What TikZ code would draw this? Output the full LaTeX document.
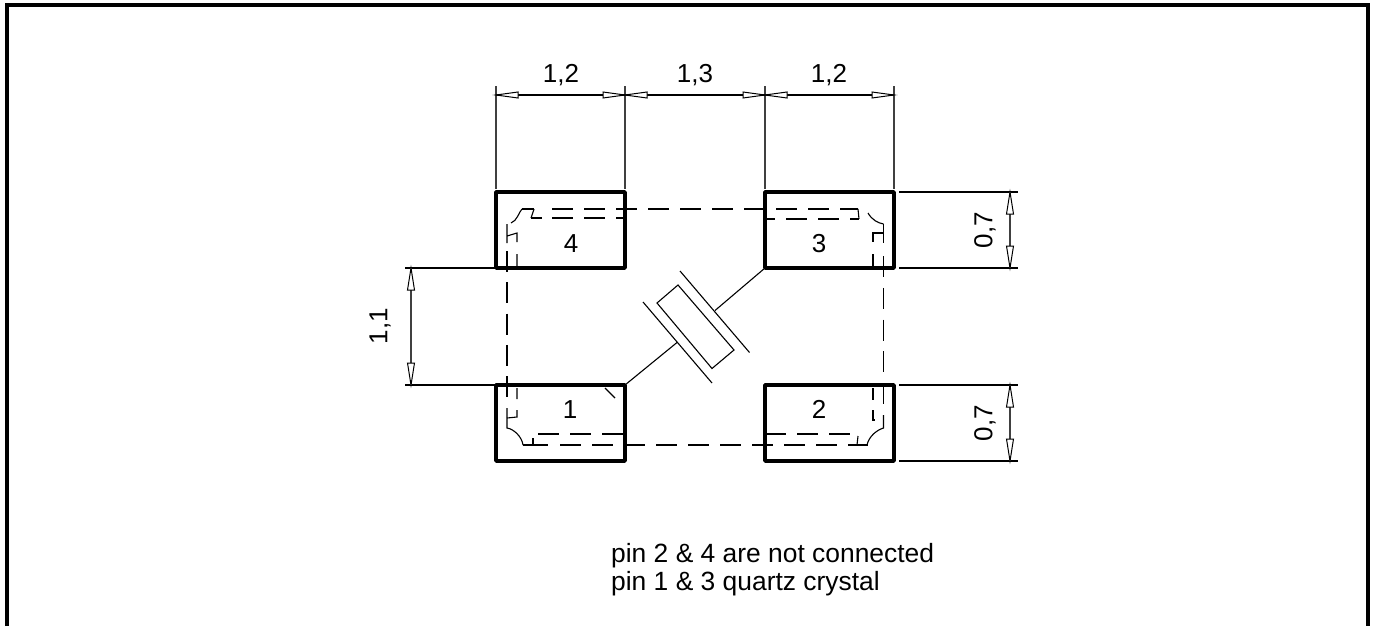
\documentclass[tikz,border=0pt]{standalone}
\usepackage{fontspec}
\setmainfont{Liberation Sans}
\tikzset{
  x=1pt,y=-1pt,
  frame/.style={line width=4pt,black},
  pad/.style={line width=3.8pt,black,line join=round},
  thin line/.style={line width=1.1pt,black},
  extline/.style={line width=1.3pt,black!75},
  hidden/.style={line width=1.05pt,black,dash pattern=on 21pt off 11pt},
  hiddenb/.style={line width=1.05pt,black,dash pattern=on 21pt off 10.3pt},
  hiddenc/.style={line width=1.05pt,black,dash pattern=on 21pt off 10.8pt},
  dimlabel/.style={font=\fontsize{26}{26}\selectfont,inner sep=0pt},
  note/.style={font=\fontsize{26.4}{28}\selectfont,inner sep=0pt,anchor=base west},
  tip/.style={line width=1pt,black,fill=white}
}
\newcommand{\htip}[3]{\draw[tip] (#1,#3) -- ++(#2*22,-3) -- ++(0,6) -- cycle;}
\newcommand{\vtip}[3]{\draw[tip] (#1,#2) -- ++(-3.5,#3*22) -- ++(7,0) -- cycle;}
\begin{document}
\begin{tikzpicture}
\useasboundingbox (0,0) rectangle (1375,626);
\fill[white] (0,0) rectangle (1375,626);
% frame
\draw[frame] (7,626) -- (7,5) -- (1368,5) -- (1368,626);
% dimension and extension lines
\foreach \x in {496,625,765,894} \draw[extline] (\x,86) -- (\x,189);
\draw[thin line] (496,95) -- (894,95);
\htip{496}{1}{95} \htip{625}{-1}{95} \htip{625}{1}{95} \htip{765}{-1}{95} \htip{765}{1}{95} \htip{894}{-1}{95}
\foreach \y in {192,268,385,461} \draw[thin line] (899,\y) -- (1018,\y);
\draw[extline] (1010,192) -- (1010,268);
\draw[extline] (1010,385) -- (1010,461);
\vtip{1010}{192}{1} \vtip{1010}{268}{-1} \vtip{1010}{385}{1} \vtip{1010}{461}{-1}
\foreach \y in {268,385} \draw[thin line] (405,\y) -- (496,\y);
\draw[extline] (411,268) -- (411,385);
\vtip{411}{268}{1} \vtip{411}{385}{-1}
% hidden outline
\draw[hidden] (552,209) -- (858,209);
\draw[hidden] (560,445) -- (868,445);
\draw[thin line] (523,445) -- (548,445);
\draw[hiddenb] (507,251) -- (507,398);
\draw[hiddenc] (883.5,256) -- (883.5,404);
\draw[thin line] (522,209) -- (534,209);
% inner hidden pieces
\draw[thin line] (531,218) -- (542,218);
\draw[hidden] (552,218) -- (625,218);
\draw[thin line] (767,219) -- (775,219);
\draw[hidden] (786,219) -- (859,219);
\draw[hidden] (538,434) -- (625,434);
\draw[hidden] (765,434) -- (850,434);
% corners
\draw[thin line] (534,209) -- (531,218);
\draw[thin line] (511,223) .. controls (517,221) and (519,212) .. (522,209);
\draw[thin line] (507,224) -- (507,243) (507,236) -- (517,233) -- (517,242) (517,254) -- (517,268);
\draw[thin line] (858,209) -- (859,219);
\draw[thin line] (868,213) .. controls (872,220) and (878,223) .. (883.5,224);
\draw[thin line] (883.5,224) -- (883.5,243) (883.5,233) -- (873,233) -- (873,242) (873,254) -- (873,268);
\draw[thin line] (507,418) -- (517,417) -- (517,410) (517,399) -- (517,388);
\draw[thin line] (507,408) -- (507,428) .. controls (514,429) and (522,437) .. (523,445);
\draw[thin line] (533,445) -- (533,438);
\draw[thin line] (605,388) -- (615,398);
\draw[thin line] (873,388) -- (873,400) (873,410) -- (873,420) -- (875,420);
\draw[thin line] (883.5,415) -- (883.5,428) .. controls (877,430) and (869,436) .. (867,445);
\draw[thin line] (857,445) -- (858,436);
% crystal
\coordinate (p1) at (625,385);
\coordinate (p3) at (765,268);
\draw[thin line] (p1) -- (677,342.5);
\draw[thin line] (643,302) -- (712,383);
\draw[thin line] (680,271) -- (749.5,352.5);
\draw[thin line] (715,310.5) -- (p3);
\draw[thin line] (657,303) -- (678,285) -- (734,350) -- (712,368.5) -- cycle;
% pads
\draw[pad] (496,192) rectangle (625,268);
\draw[pad] (765,192) rectangle (894,268);
\draw[pad] (496,385) rectangle (625,461);
\draw[pad] (765,385) rectangle (894,461);
% labels
\node[dimlabel] (d1) at (561,75) {1,2};
\node[dimlabel] (d2) at (695,75) {1,3};
\node[dimlabel] (d3) at (829,75) {1,2};
\node[dimlabel,rotate=90] (d4) at (985,230) {0,7};
\node[dimlabel,rotate=90] (d5) at (985,423) {0,7};
\node[dimlabel,rotate=90] (d6) at (380,326) {1,1};
\node[dimlabel] (n4) at (571,244) {4};
\node[dimlabel] (n3) at (819,244) {3};
\node[dimlabel] (n1) at (570,409.5) {1};
\node[dimlabel] (n2) at (819,409.5) {2};
\node[note] (t1) at (611,562) {pin 2 \& 4 are not connected};
\node[note] (t2) at (611,590) {pin 1 \& 3 quartz crystal};
\end{tikzpicture}
\end{document}
